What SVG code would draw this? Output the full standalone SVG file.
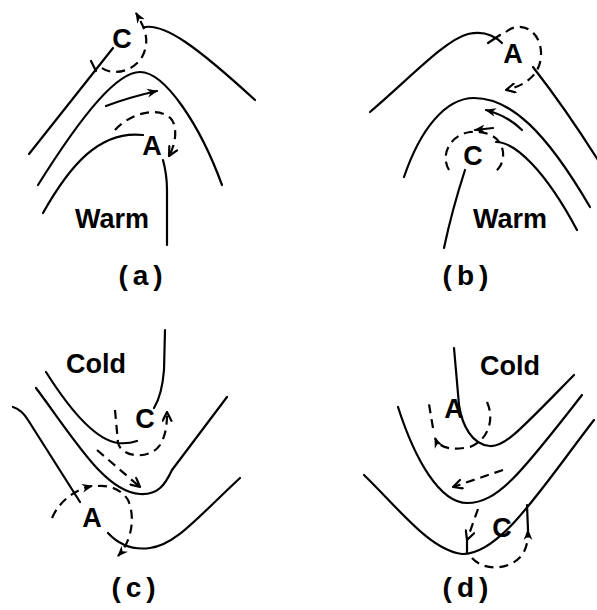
<svg xmlns="http://www.w3.org/2000/svg" width="597" height="610" viewBox="0 0 597 610">
<defs>
<style>
.l{fill:none;stroke:#000;stroke-width:2.2;stroke-linecap:round;stroke-linejoin:round}
.d{fill:none;stroke:#000;stroke-width:2.2;stroke-dasharray:9 6}
.t{font-family:"Liberation Sans",Arial,sans-serif;font-weight:bold;font-size:27px;fill:#000;text-anchor:middle}
.p{font-family:"Liberation Sans",Arial,sans-serif;font-weight:bold;font-size:28px;fill:#000;text-anchor:middle;letter-spacing:5px}
</style>
<marker id="af" viewBox="0 0 10 10" refX="9" refY="5" markerWidth="11" markerHeight="11" markerUnits="userSpaceOnUse" orient="auto">
<path d="M0,1 L10,5 L0,9 L3,5 z" fill="#000"/>
</marker>
<marker id="ao" viewBox="0 0 10 10" refX="9" refY="5" markerWidth="11" markerHeight="11" markerUnits="userSpaceOnUse" orient="auto">
<path d="M1,1 L9,5 L1,9" fill="none" stroke="#000" stroke-width="2" stroke-linecap="round" stroke-linejoin="round"/>
</marker>
</defs>
<rect width="597" height="610" fill="#fff"/>

<g id="connectors">
<!-- panel a -->
<g id="lines-a">
<path class="l" d="M29,154 L113,48"/>
<path class="l" d="M91,61 L96,71"/>
<path class="l" d="M145,27 C165,24 195,45 255,100"/>
<path class="d" d="M102,68 C112,76 135,72 143,55 C150,40 145,28 136,13" marker-end="url(#af)"/>
<path class="l" d="M38,185 C85,110 118,72 140,72 C165,72 200,125 222,185"/>
<path class="l" d="M106,106 Q130,97 157,91" marker-end="url(#af)"/>
<path class="l" d="M43,213 C70,165 100,130 143,135"/>
<path class="d" d="M115,130 C130,113 160,105 172,120 C178,130 175,145 169,156" marker-end="url(#ao)"/>
<path class="l" d="M163,160 Q167,175 167,190 L167,245"/>
</g>
<!-- panel b -->
<g id="lines-b">
<path class="l" d="M370,112 C410,78 445,40 468,34 C485,30 495,36 502,43"/>
<path class="l" d="M488,43 L500,35"/>
<path class="d" d="M506,32 C520,20 540,30 541,52 C542,72 528,85 506,90" marker-end="url(#ao)"/>
<path class="l" d="M533,67 Q565,108 598,160"/>
<path class="l" d="M404,177 C420,130 445,98 474,98 C510,98 545,130 590,207"/>
<path class="l" d="M522,130 Q508,116 486,110" marker-end="url(#af)"/>
<path class="l" d="M493,128 L475,130" marker-end="url(#af)"/>
<path class="d" d="M449,170 C440,155 450,135 470,132 C490,130 505,140 503,158 C502,165 498,170 494,173"/>
<path class="l" d="M496,142 C515,142 545,170 577,230"/>
<path class="l" d="M465,170 Q452,210 444,248"/>
</g>
<!-- panel c -->
<g id="lines-c">
<path class="l" d="M165,330 L164,370 Q162,395 154,408"/>
<path class="l" d="M46,372 C70,410 95,440 118,443 Q128,444 137,441"/>
<path class="d" d="M115,410 L118,443 C122,458 150,460 160,445 C166,435 167,425 167,412" marker-end="url(#ao)"/>
<path class="l" d="M36,388 C75,440 105,492 140,494 C158,495 165,485 172,470 L227,397"/>
<path class="d" d="M97,450 L140,487" marker-end="url(#ao)"/>
<path class="l" d="M13,407 Q22,410 28,420 L80,502"/>
<path class="l" d="M108,533 C120,546 135,550 150,548 C175,545 195,520 240,478"/>
<path class="d" d="M52,518 C60,500 75,490 92,486" marker-end="url(#af)"/>
<path class="d" d="M98,486 C110,485 122,490 128,500 C135,515 133,540 118,556" marker-end="url(#af)"/>
</g>
<!-- panel d -->
<g id="lines-d">
<path class="l" d="M454,348 L459,405 C462,425 472,445 490,446 C505,447 520,430 574,375"/>
<path class="d" d="M487,402 C495,420 488,440 470,447 C455,450 440,450 435,438" marker-end="url(#af)"/>
<path class="d" d="M433,428 L429,404"/>
<path class="l" d="M398,407 C415,460 440,503 467,503 C497,503 520,475 582,395"/>
<path class="d" d="M503,470 L453,487" marker-end="url(#ao)"/>
<path class="l" d="M364,475 C400,510 430,550 462,554 C500,555 540,490 594,420"/>
<path class="d" d="M478,509 L467,540" marker-end="url(#ao)"/>
<path class="l" d="M467,540 L467,553"/>
<path class="d" d="M472,558 C485,572 510,570 522,555 C527,548 528,540 528,530" marker-end="url(#af)"/>
<path class="l" d="M528,530 L527,505"/>
</g>
</g>

<g id="node-a-C"><text class="t" x="122" y="48">C</text></g>
<g id="node-a-A"><text class="t" x="152" y="155">A</text></g>
<g id="label-a-warm"><text class="t" x="112" y="228">Warm</text></g>
<g id="caption-a"><text class="p" x="143" y="285">(a)</text></g>

<g id="node-b-A"><text class="t" x="513" y="63">A</text></g>
<g id="node-b-C"><text class="t" x="473" y="165">C</text></g>
<g id="label-b-warm"><text class="t" x="510" y="228">Warm</text></g>
<g id="caption-b"><text class="p" x="468" y="285">(b)</text></g>

<g id="label-c-cold"><text class="t" x="96" y="373">Cold</text></g>
<g id="node-c-C"><text class="t" x="145" y="428">C</text></g>
<g id="node-c-A"><text class="t" x="92" y="527">A</text></g>
<g id="caption-c"><text class="p" x="136" y="597">(c)</text></g>

<g id="label-d-cold"><text class="t" x="510" y="375">Cold</text></g>
<g id="node-d-A"><text class="t" x="454" y="418">A</text></g>
<g id="node-d-C"><text class="t" x="502" y="537">C</text></g>
<g id="caption-d"><text class="p" x="468" y="597">(d)</text></g>
</svg>
